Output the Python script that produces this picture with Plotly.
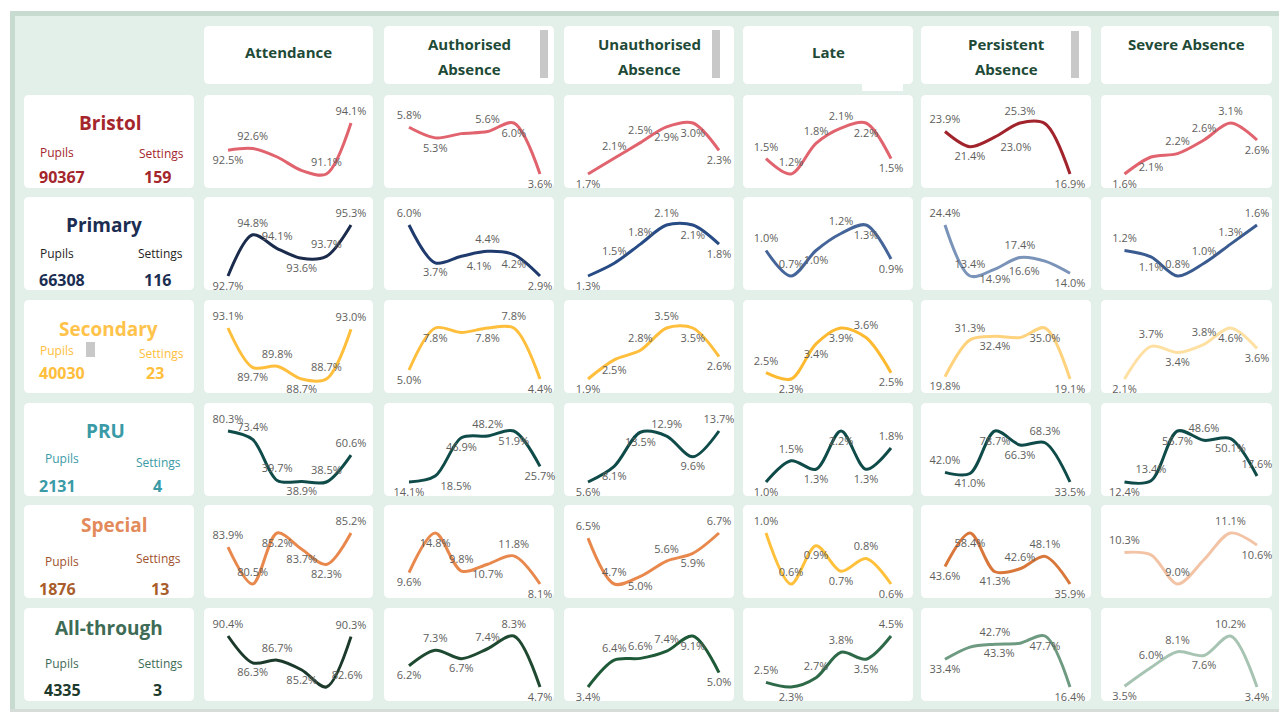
import plotly.graph_objects as go

# ---------------- data ----------------
PERIODS = ["P1", "P2", "P3", "P4", "P5", "P6"]
MEASURES = ["Attendance", "Authorised\nAbsence", "Unauthorised\nAbsence", "Late",
            "Persistent\nAbsence", "Severe Absence"]
GROUPS = ["Bristol", "Primary", "Secondary", "PRU", "Special", "All-through"]
PUPILS = [90367, 66308, 40030, 2131, 1876, 4335]
SETTINGS = [159, 116, 23, 4, 13, 3]

# values per group: [Attendance, Authorised, Unauthorised, Late, Persistent, Severe]
bristol = [
    [92.5, 92.6, 92.1, 91.3, 91.1, 94.1],
    [5.8, 5.3, 5.5, 5.6, 6.0, 3.6],
    [1.7, 2.1, 2.5, 2.9, 3.0, 2.3],
    [1.5, 1.2, 1.8, 2.1, 2.2, 1.5],
    [23.9, 21.4, 23.0, 25.3, 25.2, 16.9],
    [1.6, 2.1, 2.2, 2.6, 3.1, 2.6],
]
primary = [
    [92.7, 94.8, 94.1, 93.6, 93.7, 95.3],
    [6.0, 3.7, 4.1, 4.4, 4.2, 2.9],
    [1.3, 1.5, 1.8, 2.1, 2.1, 1.8],
    [1.0, 0.7, 1.0, 1.2, 1.3, 0.9],
    [24.4, 13.4, 14.9, 17.4, 16.6, 14.0],
    [1.2, 1.1, 0.8, 1.0, 1.3, 1.6],
]
secondary = [
    [93.1, 89.7, 89.8, 88.7, 88.7, 93.0],
    [5.0, 7.8, 7.5, 7.8, 7.8, 4.4],
    [1.9, 2.5, 2.8, 3.5, 3.5, 2.6],
    [2.5, 2.3, 3.4, 3.9, 3.6, 2.5],
    [19.8, 31.3, 32.4, 32.0, 35.0, 19.1],
    [2.1, 3.7, 3.4, 3.8, 4.6, 3.6],
]
pru = [
    [80.3, 73.4, 39.7, 38.9, 38.5, 60.6],
    [14.1, 18.5, 46.9, 48.2, 51.9, 25.7],
    [5.6, 8.1, 13.5, 12.9, 9.6, 13.7],
    [1.0, 1.5, 1.3, 2.2, 1.3, 1.8],
    [42.0, 41.0, 78.7, 66.3, 68.3, 33.5],
    [12.4, 13.4, 56.7, 48.6, 50.1, 17.6],
]
special = [
    [83.9, 80.5, 85.2, 83.7, 82.3, 85.2],
    [9.6, 14.8, 9.8, 10.7, 11.8, 8.1],
    [6.5, 4.7, 5.0, 5.6, 5.9, 6.7],
    [1.0, 0.6, 0.9, 0.7, 0.8, 0.6],
    [43.6, 58.4, 41.3, 42.6, 48.1, 35.9],
    [10.3, 10.2, 9.0, 10.0, 11.1, 10.6],
]
allthrough = [
    [90.4, 86.3, 86.7, 85.2, 82.6, 90.3],
    [6.2, 7.3, 6.7, 7.4, 8.3, 4.7],
    [3.4, 6.4, 6.6, 7.4, 9.1, 5.0],
    [2.5, 2.3, 2.7, 3.8, 3.5, 4.5],
    [33.4, 40.9, 42.7, 43.3, 47.7, 16.4],
    [3.5, 6.0, 8.1, 7.6, 10.2, 3.4],
]
VALUES = [bristol, primary, secondary, pru, special, allthrough]

# ---------------- styling ----------------
# label placement per chart: a above, b below, B below-right, L below-left,
# R above-right, - hidden
LABEL_POS = [
    ["ba--aa", "ab-abb", "baabbb", "aaaabb", "abBa-b", "bbaaab"],
    ["baabaa", "abBabb", "baaabb", "aababb", "aabaLb", "abaaaa"],
    ["ababaa", "bb-bab", "bbaabb", "abbbab", "bab-bb", "bababb"],
    ["aaabaa", "bBbabb", "bbbaba", "babbba", "abbbab", "bababa"],
    ["aabbba", "bbabab", "aababa", "aabbab", "bbbaab", "a-a-ab"],
    ["ababRa", "babaab", "baaabb", "abaaba", "b-aLbb", "baabab"],
]
POS_MAP = {"a": "top center", "b": "bottom center", "B": "bottom right",
           "L": "bottom left", "R": "top right", "-": "top center"}
LINE_COLORS = [
    ["#E0636E", "#E0636E", "#E0636E", "#E0636E", "#A1232B", "#E0636E"],
    ["#1A2B4C", "#1F3B6E", "#274B84", "#45659A", "#7A93B8", "#3A5B8F"],
    ["#FFBE3B", "#FFBE3B", "#FFBE3B", "#FDBA30", "#FFD27D", "#FFE0A3"],
    ["#0F4B49", "#0F4B49", "#0F4B49", "#0F4B49", "#0F4B49", "#0F4B49"],
    ["#E8884C", "#E8884C", "#E8884C", "#FFC13B", "#D9773A", "#F3C3A5"],
    ["#1C3A2B", "#1F4A31", "#1F5A38", "#2E6A49", "#6D9A80", "#A7C4B3"],
]
TITLE_COLORS = ["#A4262C", "#1B2E52", "#FFC34B", "#3A9AA6", "#E38A5B", "#3E6B55"]
STAT_LABEL_COLORS = ["#A4262C", "#252423", "#FFBE3B", "#3A9AA6", "#A0522D", "#3E6B55"]
STAT_NUM_COLORS = ["#A4262C", "#1B2E52", "#FFBE3B", "#3A9AA6", "#A85D2B", "#1C3A2B"]

FONT = "Segoe UI, Open Sans, sans-serif"
W, H = 1279, 713

COL_X = [(24, 194), (204, 373), (384, 554), (564, 734), (743, 913), (921, 1091), (1101, 1272)]
HEAD_Y = (26, 84)
ROW_Y = [(95, 188), (197, 290), (300, 393), (403, 496), (505, 598), (608, 701)]
COL_PAD = [(24, 22), (25, 14), (24, 15), (23, 22), (24, 21), (23.5, 15)]


def X(x):
    return x / W


def Y(y):
    return 1 - y / H


def rrect(x0, y0, x1, y1, r=5, fill="white"):
    p = (f"M {X(x0 + r)},{Y(y0)} L {X(x1 - r)},{Y(y0)} Q {X(x1)},{Y(y0)} {X(x1)},{Y(y0 + r)} "
         f"L {X(x1)},{Y(y1 - r)} Q {X(x1)},{Y(y1)} {X(x1 - r)},{Y(y1)} "
         f"L {X(x0 + r)},{Y(y1)} Q {X(x0)},{Y(y1)} {X(x0)},{Y(y1 - r)} "
         f"L {X(x0)},{Y(y0 + r)} Q {X(x0)},{Y(y0)} {X(x0 + r)},{Y(y0)} Z")
    return dict(type="path", path=p, xref="paper", yref="paper", fillcolor=fill,
                line=dict(width=0), layer="below")


def rect(x0, y0, x1, y1, fill):
    return dict(type="rect", xref="paper", yref="paper", x0=X(x0), x1=X(x1), y0=Y(y1), y1=Y(y0),
                fillcolor=fill, line=dict(width=0), layer="below")


shapes = [
    rect(10, 11, 1279, 710, "#E3EFE9"),
    rect(10, 11, 1279, 16, "#C8DBD1"),
    rect(10, 11, 15, 710, "#C8DBD1"),
    rect(10, 709, 1279, 712, "#D6DDD9"),
]
annotations = []

# header cards
for c in range(1, 7):
    x0, x1 = COL_X[c]
    shapes.append(rrect(x0, HEAD_Y[0], x1, HEAD_Y[1]))
    lines = MEASURES[c - 1].split("\n")
    ys = [52] if len(lines) == 1 else [44, 69]
    if MEASURES[c - 1] == "Severe Absence":
        ys = [44]
    for t, yy in zip(lines, ys):
        annotations.append(dict(x=X((x0 + x1) / 2), y=Y(yy), xref="paper", yref="paper",
                                text=t, showarrow=False, xanchor="center", yanchor="middle",
                                font=dict(family=FONT, size=15, color="#1E4A37", weight="bold")))

# row label cards
TITLE_Y = [123, 225, 329, 431, 525, 628]
PUPIL_LBL = [(57, 152), (57, 253), (57, 351), (62, 459), (62, 561), (62, 663)]
SETT_LBL = [(161, 153), (160, 253), (161, 353), (158, 462), (158, 558), (160, 663)]
NUM_Y = [177, 280, 373, 486, 589, 690]
PUP_NUM_X = [62, 62, 62, 57, 58, 62]
SET_NUM_X = [157, 157, 155, 157, 160, 157]
TITLE_X = [110, 104, 108, 105, 114, 109]

for r in range(6):
    y0, y1 = ROW_Y[r]
    x0, x1 = COL_X[0]
    shapes.append(rrect(x0, y0, x1, y1))
    annotations.append(dict(x=X(TITLE_X[r]), y=Y(TITLE_Y[r]), xref="paper", yref="paper",
                            text=GROUPS[r], showarrow=False, xanchor="center", yanchor="middle",
                            font=dict(family=FONT, size=19, color=TITLE_COLORS[r], weight="bold")))
    for (lx, ly), t in ((PUPIL_LBL[r], "Pupils"), (SETT_LBL[r], "Settings")):
        annotations.append(dict(x=X(lx), y=Y(ly), xref="paper", yref="paper", text=t,
                                showarrow=False, xanchor="center", yanchor="middle",
                                font=dict(family=FONT, size=12, color=STAT_LABEL_COLORS[r])))
    for nx, t in ((PUP_NUM_X[r], str(PUPILS[r])), (SET_NUM_X[r], str(SETTINGS[r]))):
        annotations.append(dict(x=X(nx), y=Y(NUM_Y[r]), xref="paper", yref="paper", text=t,
                                showarrow=False, xanchor="center", yanchor="middle",
                                font=dict(family=FONT, size=16, color=STAT_NUM_COLORS[r],
                                          weight="bold")))

# small multiples
fig = go.Figure()
layout_axes = {}
k = 0
for r in range(6):
    y0, y1 = ROW_Y[r]
    for c in range(6):
        k += 1
        x0, x1 = COL_X[c + 1]
        shapes.append(rrect(x0, y0, x1, y1))
        vals = VALUES[r][c]
        pos = LABEL_POS[r][c]
        lpad, rpad = COL_PAD[c]
        pitch = ((x1 - x0) - lpad - rpad) / (len(vals) - 1)
        xr = [-lpad / pitch, (len(vals) - 1) + rpad / pitch]
        lo, hi = min(vals), max(vals)
        span = (hi - lo) if hi > lo else 1.0
        inner = (y1 - y0) - 28 - 14
        yr = [lo - 14 / inner * span, hi + 28 / inner * span]
        texts = ["" if p == "-" else f"{v:.1f}%" for v, p in zip(vals, pos)]
        tpos = [POS_MAP[p] for p in pos]
        fig.add_trace(go.Scatter(
            x=list(range(len(PERIODS))), y=vals, mode="lines+markers+text",
            text=texts, textposition=tpos,
            textfont=dict(family=FONT, size=11, color="#605E5C"),
            marker=dict(size=7, color="rgba(0,0,0,0)"),
            line=dict(color=LINE_COLORS[r][c], width=3, shape="spline", smoothing=0.9),
            cliponaxis=False, hoverinfo="skip", showlegend=False,
            xaxis=f"x{k}", yaxis=f"y{k}"))
        suf = "" if k == 1 else str(k)
        layout_axes[f"xaxis{suf}"] = dict(domain=[X(x0), X(x1)], range=xr, visible=False,
                                          fixedrange=True, anchor=f"y{suf}")
        layout_axes[f"yaxis{suf}"] = dict(domain=[Y(y1), Y(y0)], range=yr, visible=False,
                                          fixedrange=True, anchor=f"x{suf}")

# small UI artefacts visible in the dashboard
shapes += [
    rect(540, 30, 548, 78, "#C8C8C8"),
    rect(712, 30, 720, 78, "#C8C8C8"),
    rect(1071, 31, 1079, 78, "#C8C8C8"),
    rect(86, 342, 95, 357, "#C8C8C8"),
    rect(862, 80, 903, 91, "#FFFFFF"),
]

fig.update_layout(
    width=W, height=H, autosize=False,
    margin=dict(l=0, r=0, t=0, b=0),
    paper_bgcolor="white", plot_bgcolor="rgba(0,0,0,0)",
    shapes=shapes, annotations=annotations,
    **layout_axes,
)

fig.write_html("out.html", config={"displayModeBar": False},
               post_script="document.body.style.margin='0';")
